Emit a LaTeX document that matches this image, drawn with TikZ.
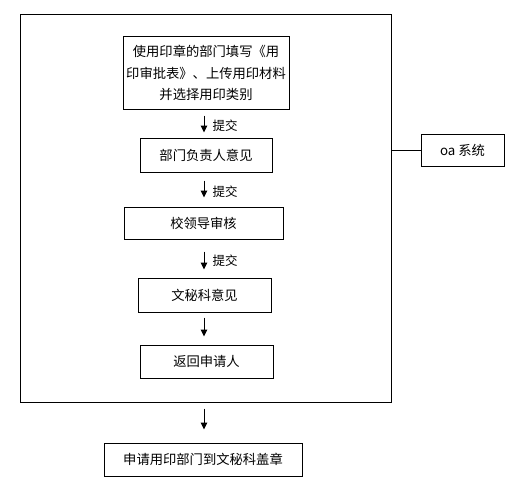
\documentclass[tikz,border=0pt]{standalone}
\usepackage{fontspec}
\setmainfont{Noto Sans CJK SC}
\usetikzlibrary{arrows.meta}
\tikzstyle{every node}=[font=\fontsize{13.3}{21.5}\selectfont]
\tikzstyle{every path}=[line width=1pt]
\tikzset{
  stepbox/.style={draw, inner sep=0pt, align=center},
  flow/.style={-{Triangle[length=7pt,width=6.5pt]}},
  tag/.style={right, font=\fontsize{12.5}{12.5}\selectfont, inner sep=0pt, xshift=8pt}
}

\begin{document}
\begin{tikzpicture}[x=1pt, y=-1pt]
  \useasboundingbox (0,0) rectangle (518,492);

  % Outer frame
  \node[stepbox, minimum width=371pt, minimum height=387pt] (frame) at (205.5,208.5) {};
  \coordinate (mid) at (204,0);

  % Steps inside the oa system
  \node[stepbox, minimum width=166pt, minimum height=72pt] (apply) at (206,73)
    {使用印章的部门填写《用\\印审批表》、上传用印材料\\并选择用印类别};
  \node[stepbox, minimum width=132pt, minimum height=34pt] (dept) at (206,155) {部门负责人意见};
  \node[stepbox, minimum width=159pt, minimum height=32pt] (leader) at (203.5,223) {校领导审核};
  \node[stepbox, minimum width=133pt, minimum height=34pt] (office) at (204.5,295) {文秘科意见};
  \node[stepbox, minimum width=133pt, minimum height=33pt] (back) at (206.5,361.5) {返回申请人};

  % Last step outside
  \node[stepbox, minimum width=198pt, minimum height=33pt] (stamp) at (203,459.5) {申请用印部门到文秘科盖章};

  % System label
  \node[stepbox, minimum width=83pt, minimum height=32pt] (oa) at (462.5,150) {oa 系统};
  \draw (frame.east |- oa) -- (oa.west);

  % Arrows
  \draw[flow, shorten <=6pt, shorten >=5pt] (apply.south -| mid) -- (dept.north -| mid)
    node[tag, midway, yshift=-2pt] {提交};
  \draw[flow, shorten <=8pt, shorten >=9pt] (dept.south -| mid) -- (leader.north -| mid)
    node[tag, midway, yshift=-2pt] {提交};
  \draw[flow, shorten <=12pt, shorten >=8pt] (leader.south -| mid) -- (office.north -| mid)
    node[tag, midway, yshift=-2pt] {提交};
  \draw[flow, shorten <=5pt, shorten >=8pt] (office.south -| mid) -- (back.north -| mid);
  \draw[flow, shorten <=6pt, shorten >=13pt] (frame.south -| mid) -- (stamp.north -| mid);
\end{tikzpicture}
\end{document}
